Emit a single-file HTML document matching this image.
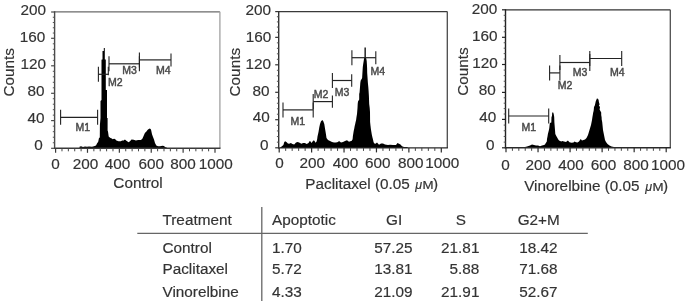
<!DOCTYPE html>
<html><head><meta charset="utf-8"><style>
html,body{margin:0;padding:0;background:#fff;}
body{width:685px;height:301px;overflow:hidden;position:relative;}
#wrap{position:absolute;left:0;top:0;width:685px;height:301px;will-change:transform;}
svg{position:absolute;left:0;top:0;}
svg text{font-family:"Liberation Sans", sans-serif;stroke:#333;stroke-width:0.18px;}
</style></head><body>
<div id="wrap"><svg width="685" height="301" viewBox="0 0 685 301">
<polygon points="79.5,148.3 79.5,146.8 81.0,146.3 83.0,147.0 85.0,146.4 87.0,146.8 89.0,146.5 92.0,146.8 94.0,146.3 96.0,145.5 97.0,143.5 98.2,141.7 99.0,138.0 99.8,137.5 99.9,125.0 100.5,118.0 100.5,101.0 101.5,100.0 101.5,60.0 101.8,59.5 102.5,59.5 102.5,51.0 103.8,51.0 103.8,48.0 104.8,48.0 104.8,59.5 105.8,59.5 105.8,90.0 107.0,90.0 107.0,118.0 107.6,118.0 107.6,130.6 108.0,131.5 108.7,136.4 109.5,137.2 110.5,138.0 111.3,138.2 112.8,139.3 114.0,138.8 115.0,139.0 116.4,140.4 118.6,141.2 120.8,141.2 122.2,140.4 123.7,140.6 124.9,139.4 126.4,140.8 128.6,142.3 130.0,141.2 131.5,139.4 133.7,139.7 135.9,140.5 138.1,140.1 141.0,140.1 142.5,138.6 144.0,135.0 145.0,132.8 146.0,131.9 147.5,130.1 148.7,129.0 149.9,128.4 151.0,129.5 152.0,134.2 153.0,137.1 154.0,139.4 155.0,142.9 156.3,145.5 158.0,146.2 160.0,146.3 162.5,145.8 164.0,146.0 165.0,147.0 167.0,147.8 167.0,148.3" fill="#000"/>
<polygon points="280.3,147.9 280.3,147.6 281.0,147.0 283.4,144.9 284.3,141.9 285.2,141.3 286.7,142.2 287.9,143.4 289.1,143.7 290.9,143.1 292.4,144.0 294.2,144.6 296.0,142.5 297.8,141.9 299.6,142.8 301.4,143.7 303.1,143.1 304.9,143.1 306.7,144.0 308.5,143.1 309.7,141.0 310.6,141.6 311.5,143.1 313.3,140.4 314.5,140.7 315.4,142.8 316.6,141.6 317.2,139.0 317.5,136.6 318.5,132.0 319.3,127.3 320.0,124.0 321.0,121.3 322.3,120.0 323.3,121.3 324.3,124.0 325.0,128.6 325.8,133.3 326.5,138.0 328.0,140.0 330.0,141.0 332.0,142.0 334.0,142.5 336.0,142.6 338.0,142.0 339.0,141.0 341.0,142.5 343.0,142.0 345.0,141.0 347.0,140.2 349.0,141.7 351.0,141.0 351.8,140.7 352.6,139.3 352.9,136.0 353.3,133.5 353.7,131.0 354.2,128.7 354.7,126.0 355.2,123.9 355.6,122.0 356.1,120.0 356.5,117.0 357.0,114.0 357.5,108.0 357.7,104.0 358.0,101.5 359.2,99.5 359.2,94.0 359.6,92.2 360.0,87.0 360.3,82.9 360.7,80.5 362.1,78.2 362.6,70.0 362.8,67.0 363.2,64.0 363.7,61.0 364.1,58.2 364.5,57.8 364.5,47.5 365.8,47.5 365.8,57.8 366.2,58.2 366.7,61.0 366.9,64.0 367.1,68.0 367.2,73.0 367.5,77.3 367.9,82.9 368.3,87.0 368.6,91.0 368.9,96.0 369.2,104.0 369.7,108.0 370.0,112.0 370.1,122.0 370.5,125.8 370.9,129.0 371.3,131.6 371.8,134.5 372.4,137.3 373.0,139.5 373.6,142.2 374.4,143.5 375.5,143.8 377.0,142.6 379.0,144.7 381.0,143.5 383.0,143.5 385.0,144.6 388.0,145.0 390.0,144.8 393.0,145.0 396.0,145.0 397.5,142.9 399.0,143.7 400.5,144.6 402.0,146.2 404.0,147.0 407.0,147.0 408.0,147.8 408.0,147.9" fill="#000"/>
<polygon points="518.0,147.8 518.0,147.5 521.0,147.0 524.0,147.3 527.0,146.5 530.0,145.5 532.0,144.5 534.0,145.0 536.0,145.5 538.0,145.5 540.0,146.2 542.0,145.5 544.0,145.0 545.0,144.5 545.5,143.5 546.8,141.6 547.0,139.0 547.6,136.0 547.9,134.0 548.8,130.4 549.3,128.0 549.6,125.0 549.9,123.0 551.3,122.6 551.5,117.0 552.0,116.0 552.2,112.4 553.2,112.4 553.7,114.0 554.2,117.0 554.4,122.6 554.6,125.0 555.0,130.0 555.3,134.0 556.3,136.0 557.0,137.3 558.0,139.0 558.6,140.0 559.5,140.8 561.3,141.6 562.3,141.1 564.0,141.6 566.0,141.9 567.9,140.4 569.5,142.2 571.5,142.8 573.5,142.5 574.5,141.6 576.0,142.2 577.5,142.5 579.0,141.6 580.7,138.9 582.0,140.4 583.5,140.1 585.0,139.5 586.5,138.0 588.0,135.0 589.5,130.0 591.0,125.0 592.0,120.0 592.4,117.3 592.8,115.0 593.2,112.5 593.6,111.0 593.8,109.4 594.0,107.0 594.8,105.4 595.4,103.0 595.7,101.4 596.4,99.8 596.9,98.6 597.5,98.6 598.6,99.8 598.8,101.4 599.2,103.0 599.6,104.5 598.9,105.6 600.0,107.0 599.6,109.4 600.4,111.0 601.2,112.5 601.2,115.0 601.6,117.3 601.7,119.5 602.2,122.0 602.5,125.0 603.0,130.0 604.0,135.0 605.0,140.0 606.0,142.0 607.5,144.0 609.5,145.5 611.5,146.5 614.0,147.0 618.0,147.5 618.0,147.8" fill="#000"/>
<line x1="54.60" y1="11.80" x2="219.90" y2="11.80" stroke="#6a6a6a" stroke-width="1.3"/>
<line x1="219.90" y1="11.80" x2="219.90" y2="148.30" stroke="#a0a0a0" stroke-width="1.3"/>
<line x1="54.60" y1="11.20" x2="54.60" y2="148.90" stroke="#4a4a4a" stroke-width="1.4"/>
<line x1="54.00" y1="148.30" x2="220.50" y2="148.30" stroke="#3a3a3a" stroke-width="1.4"/>
<line x1="51.10" y1="148.30" x2="54.60" y2="148.30" stroke="#4a4a4a" stroke-width="1.2"/>
<line x1="52.80" y1="142.76" x2="54.60" y2="142.76" stroke="#555" stroke-width="1.0"/>
<line x1="52.80" y1="137.22" x2="54.60" y2="137.22" stroke="#555" stroke-width="1.0"/>
<line x1="52.80" y1="131.68" x2="54.60" y2="131.68" stroke="#555" stroke-width="1.0"/>
<line x1="52.80" y1="126.14" x2="54.60" y2="126.14" stroke="#555" stroke-width="1.0"/>
<line x1="51.10" y1="120.60" x2="54.60" y2="120.60" stroke="#4a4a4a" stroke-width="1.2"/>
<line x1="52.80" y1="115.14" x2="54.60" y2="115.14" stroke="#555" stroke-width="1.0"/>
<line x1="52.80" y1="109.68" x2="54.60" y2="109.68" stroke="#555" stroke-width="1.0"/>
<line x1="52.80" y1="104.22" x2="54.60" y2="104.22" stroke="#555" stroke-width="1.0"/>
<line x1="52.80" y1="98.76" x2="54.60" y2="98.76" stroke="#555" stroke-width="1.0"/>
<line x1="51.10" y1="93.30" x2="54.60" y2="93.30" stroke="#4a4a4a" stroke-width="1.2"/>
<line x1="52.80" y1="87.80" x2="54.60" y2="87.80" stroke="#555" stroke-width="1.0"/>
<line x1="52.80" y1="82.30" x2="54.60" y2="82.30" stroke="#555" stroke-width="1.0"/>
<line x1="52.80" y1="76.80" x2="54.60" y2="76.80" stroke="#555" stroke-width="1.0"/>
<line x1="52.80" y1="71.30" x2="54.60" y2="71.30" stroke="#555" stroke-width="1.0"/>
<line x1="51.10" y1="65.80" x2="54.60" y2="65.80" stroke="#4a4a4a" stroke-width="1.2"/>
<line x1="52.80" y1="60.30" x2="54.60" y2="60.30" stroke="#555" stroke-width="1.0"/>
<line x1="52.80" y1="54.80" x2="54.60" y2="54.80" stroke="#555" stroke-width="1.0"/>
<line x1="52.80" y1="49.30" x2="54.60" y2="49.30" stroke="#555" stroke-width="1.0"/>
<line x1="52.80" y1="43.80" x2="54.60" y2="43.80" stroke="#555" stroke-width="1.0"/>
<line x1="51.10" y1="38.30" x2="54.60" y2="38.30" stroke="#4a4a4a" stroke-width="1.2"/>
<line x1="52.80" y1="33.04" x2="54.60" y2="33.04" stroke="#555" stroke-width="1.0"/>
<line x1="52.80" y1="27.78" x2="54.60" y2="27.78" stroke="#555" stroke-width="1.0"/>
<line x1="52.80" y1="22.52" x2="54.60" y2="22.52" stroke="#555" stroke-width="1.0"/>
<line x1="52.80" y1="17.26" x2="54.60" y2="17.26" stroke="#555" stroke-width="1.0"/>
<line x1="51.10" y1="12.00" x2="54.60" y2="12.00" stroke="#4a4a4a" stroke-width="1.2"/>
<text x="42.80" y="150.17" font-size="15.3" text-anchor="end" fill="#333" >0</text>
<text x="44.40" y="122.97" font-size="15.3" text-anchor="end" fill="#333" >40</text>
<text x="44.50" y="96.07" font-size="15.3" text-anchor="end" fill="#333" >80</text>
<text x="46.10" y="68.97" font-size="15.3" text-anchor="end" fill="#333" >120</text>
<text x="45.40" y="41.92" font-size="15.3" text-anchor="end" fill="#333" >160</text>
<text x="46.10" y="15.07" font-size="15.3" text-anchor="end" fill="#333" >200</text>
<line x1="55.60" y1="148.30" x2="55.60" y2="152.80" stroke="#3a3a3a" stroke-width="1.2"/>
<line x1="61.98" y1="148.30" x2="61.98" y2="151.30" stroke="#444" stroke-width="1.0"/>
<line x1="68.35" y1="148.30" x2="68.35" y2="151.30" stroke="#444" stroke-width="1.0"/>
<line x1="74.73" y1="148.30" x2="74.73" y2="151.30" stroke="#444" stroke-width="1.0"/>
<line x1="81.10" y1="148.30" x2="81.10" y2="151.30" stroke="#444" stroke-width="1.0"/>
<line x1="87.48" y1="148.30" x2="87.48" y2="152.80" stroke="#3a3a3a" stroke-width="1.2"/>
<line x1="93.86" y1="148.30" x2="93.86" y2="151.30" stroke="#444" stroke-width="1.0"/>
<line x1="100.23" y1="148.30" x2="100.23" y2="151.30" stroke="#444" stroke-width="1.0"/>
<line x1="106.61" y1="148.30" x2="106.61" y2="151.30" stroke="#444" stroke-width="1.0"/>
<line x1="112.98" y1="148.30" x2="112.98" y2="151.30" stroke="#444" stroke-width="1.0"/>
<line x1="119.36" y1="148.30" x2="119.36" y2="152.80" stroke="#3a3a3a" stroke-width="1.2"/>
<line x1="125.74" y1="148.30" x2="125.74" y2="151.30" stroke="#444" stroke-width="1.0"/>
<line x1="132.11" y1="148.30" x2="132.11" y2="151.30" stroke="#444" stroke-width="1.0"/>
<line x1="138.49" y1="148.30" x2="138.49" y2="151.30" stroke="#444" stroke-width="1.0"/>
<line x1="144.86" y1="148.30" x2="144.86" y2="151.30" stroke="#444" stroke-width="1.0"/>
<line x1="151.24" y1="148.30" x2="151.24" y2="152.80" stroke="#3a3a3a" stroke-width="1.2"/>
<line x1="157.62" y1="148.30" x2="157.62" y2="151.30" stroke="#444" stroke-width="1.0"/>
<line x1="163.99" y1="148.30" x2="163.99" y2="151.30" stroke="#444" stroke-width="1.0"/>
<line x1="170.37" y1="148.30" x2="170.37" y2="151.30" stroke="#444" stroke-width="1.0"/>
<line x1="176.74" y1="148.30" x2="176.74" y2="151.30" stroke="#444" stroke-width="1.0"/>
<line x1="183.12" y1="148.30" x2="183.12" y2="152.80" stroke="#3a3a3a" stroke-width="1.2"/>
<line x1="189.50" y1="148.30" x2="189.50" y2="151.30" stroke="#444" stroke-width="1.0"/>
<line x1="195.87" y1="148.30" x2="195.87" y2="151.30" stroke="#444" stroke-width="1.0"/>
<line x1="202.25" y1="148.30" x2="202.25" y2="151.30" stroke="#444" stroke-width="1.0"/>
<line x1="208.62" y1="148.30" x2="208.62" y2="151.30" stroke="#444" stroke-width="1.0"/>
<line x1="215.00" y1="148.30" x2="215.00" y2="152.80" stroke="#3a3a3a" stroke-width="1.2"/>
<text x="55.50" y="169.37" font-size="15.3" text-anchor="middle" fill="#333" >0</text>
<text x="85.50" y="169.37" font-size="15.3" text-anchor="middle" fill="#333" >200</text>
<text x="117.40" y="169.37" font-size="15.3" text-anchor="middle" fill="#333" >400</text>
<text x="151.30" y="169.37" font-size="15.3" text-anchor="middle" fill="#333" >600</text>
<text x="182.90" y="169.37" font-size="15.3" text-anchor="middle" fill="#333" >800</text>
<text x="215.70" y="169.37" font-size="15.3" text-anchor="middle" fill="#333" >1000</text>
<text x="0" y="0" font-size="15.3" text-anchor="middle" fill="#333" transform="translate(14.30,72.30) rotate(-90)">Counts</text>
<line x1="278.70" y1="11.60" x2="447.30" y2="11.60" stroke="#3a3a3a" stroke-width="1.3"/>
<line x1="447.30" y1="11.60" x2="447.30" y2="147.90" stroke="#4a4a4a" stroke-width="1.3"/>
<line x1="278.70" y1="11.00" x2="278.70" y2="148.50" stroke="#333" stroke-width="1.4"/>
<line x1="278.10" y1="147.90" x2="447.90" y2="147.90" stroke="#2a2a2a" stroke-width="1.4"/>
<line x1="275.20" y1="147.80" x2="278.70" y2="147.80" stroke="#333" stroke-width="1.2"/>
<line x1="276.90" y1="142.18" x2="278.70" y2="142.18" stroke="#555" stroke-width="1.0"/>
<line x1="276.90" y1="136.56" x2="278.70" y2="136.56" stroke="#555" stroke-width="1.0"/>
<line x1="276.90" y1="130.94" x2="278.70" y2="130.94" stroke="#555" stroke-width="1.0"/>
<line x1="276.90" y1="125.32" x2="278.70" y2="125.32" stroke="#555" stroke-width="1.0"/>
<line x1="275.20" y1="119.70" x2="278.70" y2="119.70" stroke="#333" stroke-width="1.2"/>
<line x1="276.90" y1="114.22" x2="278.70" y2="114.22" stroke="#555" stroke-width="1.0"/>
<line x1="276.90" y1="108.74" x2="278.70" y2="108.74" stroke="#555" stroke-width="1.0"/>
<line x1="276.90" y1="103.26" x2="278.70" y2="103.26" stroke="#555" stroke-width="1.0"/>
<line x1="276.90" y1="97.78" x2="278.70" y2="97.78" stroke="#555" stroke-width="1.0"/>
<line x1="275.20" y1="92.30" x2="278.70" y2="92.30" stroke="#333" stroke-width="1.2"/>
<line x1="276.90" y1="86.80" x2="278.70" y2="86.80" stroke="#555" stroke-width="1.0"/>
<line x1="276.90" y1="81.30" x2="278.70" y2="81.30" stroke="#555" stroke-width="1.0"/>
<line x1="276.90" y1="75.80" x2="278.70" y2="75.80" stroke="#555" stroke-width="1.0"/>
<line x1="276.90" y1="70.30" x2="278.70" y2="70.30" stroke="#555" stroke-width="1.0"/>
<line x1="275.20" y1="64.80" x2="278.70" y2="64.80" stroke="#333" stroke-width="1.2"/>
<line x1="276.90" y1="59.31" x2="278.70" y2="59.31" stroke="#555" stroke-width="1.0"/>
<line x1="276.90" y1="53.82" x2="278.70" y2="53.82" stroke="#555" stroke-width="1.0"/>
<line x1="276.90" y1="48.33" x2="278.70" y2="48.33" stroke="#555" stroke-width="1.0"/>
<line x1="276.90" y1="42.84" x2="278.70" y2="42.84" stroke="#555" stroke-width="1.0"/>
<line x1="275.20" y1="37.35" x2="278.70" y2="37.35" stroke="#333" stroke-width="1.2"/>
<line x1="276.90" y1="32.20" x2="278.70" y2="32.20" stroke="#555" stroke-width="1.0"/>
<line x1="276.90" y1="27.05" x2="278.70" y2="27.05" stroke="#555" stroke-width="1.0"/>
<line x1="276.90" y1="21.90" x2="278.70" y2="21.90" stroke="#555" stroke-width="1.0"/>
<line x1="276.90" y1="16.75" x2="278.70" y2="16.75" stroke="#555" stroke-width="1.0"/>
<line x1="275.20" y1="11.60" x2="278.70" y2="11.60" stroke="#333" stroke-width="1.2"/>
<text x="268.50" y="150.27" font-size="15.3" text-anchor="end" fill="#333" >0</text>
<text x="269.80" y="122.47" font-size="15.3" text-anchor="end" fill="#333" >40</text>
<text x="269.50" y="95.97" font-size="15.3" text-anchor="end" fill="#333" >80</text>
<text x="271.10" y="69.27" font-size="15.3" text-anchor="end" fill="#333" >120</text>
<text x="271.40" y="41.97" font-size="15.3" text-anchor="end" fill="#333" >160</text>
<text x="271.10" y="14.92" font-size="15.3" text-anchor="end" fill="#333" >200</text>
<line x1="279.20" y1="147.90" x2="279.20" y2="152.40" stroke="#2a2a2a" stroke-width="1.2"/>
<line x1="285.68" y1="147.90" x2="285.68" y2="150.90" stroke="#444" stroke-width="1.0"/>
<line x1="292.17" y1="147.90" x2="292.17" y2="150.90" stroke="#444" stroke-width="1.0"/>
<line x1="298.65" y1="147.90" x2="298.65" y2="150.90" stroke="#444" stroke-width="1.0"/>
<line x1="305.14" y1="147.90" x2="305.14" y2="150.90" stroke="#444" stroke-width="1.0"/>
<line x1="311.62" y1="147.90" x2="311.62" y2="152.40" stroke="#2a2a2a" stroke-width="1.2"/>
<line x1="318.10" y1="147.90" x2="318.10" y2="150.90" stroke="#444" stroke-width="1.0"/>
<line x1="324.59" y1="147.90" x2="324.59" y2="150.90" stroke="#444" stroke-width="1.0"/>
<line x1="331.07" y1="147.90" x2="331.07" y2="150.90" stroke="#444" stroke-width="1.0"/>
<line x1="337.56" y1="147.90" x2="337.56" y2="150.90" stroke="#444" stroke-width="1.0"/>
<line x1="344.04" y1="147.90" x2="344.04" y2="152.40" stroke="#2a2a2a" stroke-width="1.2"/>
<line x1="350.52" y1="147.90" x2="350.52" y2="150.90" stroke="#444" stroke-width="1.0"/>
<line x1="357.01" y1="147.90" x2="357.01" y2="150.90" stroke="#444" stroke-width="1.0"/>
<line x1="363.49" y1="147.90" x2="363.49" y2="150.90" stroke="#444" stroke-width="1.0"/>
<line x1="369.98" y1="147.90" x2="369.98" y2="150.90" stroke="#444" stroke-width="1.0"/>
<line x1="376.46" y1="147.90" x2="376.46" y2="152.40" stroke="#2a2a2a" stroke-width="1.2"/>
<line x1="382.94" y1="147.90" x2="382.94" y2="150.90" stroke="#444" stroke-width="1.0"/>
<line x1="389.43" y1="147.90" x2="389.43" y2="150.90" stroke="#444" stroke-width="1.0"/>
<line x1="395.91" y1="147.90" x2="395.91" y2="150.90" stroke="#444" stroke-width="1.0"/>
<line x1="402.40" y1="147.90" x2="402.40" y2="150.90" stroke="#444" stroke-width="1.0"/>
<line x1="408.88" y1="147.90" x2="408.88" y2="152.40" stroke="#2a2a2a" stroke-width="1.2"/>
<line x1="415.36" y1="147.90" x2="415.36" y2="150.90" stroke="#444" stroke-width="1.0"/>
<line x1="421.85" y1="147.90" x2="421.85" y2="150.90" stroke="#444" stroke-width="1.0"/>
<line x1="428.33" y1="147.90" x2="428.33" y2="150.90" stroke="#444" stroke-width="1.0"/>
<line x1="434.82" y1="147.90" x2="434.82" y2="150.90" stroke="#444" stroke-width="1.0"/>
<line x1="441.30" y1="147.90" x2="441.30" y2="152.40" stroke="#2a2a2a" stroke-width="1.2"/>
<text x="279.60" y="168.17" font-size="15.3" text-anchor="middle" fill="#333" >0</text>
<text x="312.30" y="168.17" font-size="15.3" text-anchor="middle" fill="#333" >200</text>
<text x="345.40" y="168.17" font-size="15.3" text-anchor="middle" fill="#333" >400</text>
<text x="377.70" y="168.17" font-size="15.3" text-anchor="middle" fill="#333" >600</text>
<text x="410.70" y="168.17" font-size="15.3" text-anchor="middle" fill="#333" >800</text>
<text x="442.30" y="168.17" font-size="15.3" text-anchor="middle" fill="#333" >1000</text>
<text x="0" y="0" font-size="15.3" text-anchor="middle" fill="#333" transform="translate(240.40,72.20) rotate(-90)">Counts</text>
<line x1="505.50" y1="9.80" x2="670.30" y2="9.80" stroke="#333" stroke-width="1.3"/>
<line x1="670.30" y1="9.80" x2="670.30" y2="147.80" stroke="#505050" stroke-width="1.3"/>
<line x1="505.50" y1="9.20" x2="505.50" y2="148.40" stroke="#222" stroke-width="1.4"/>
<line x1="504.90" y1="147.80" x2="670.90" y2="147.80" stroke="#2a2a2a" stroke-width="1.4"/>
<line x1="502.00" y1="147.80" x2="505.50" y2="147.80" stroke="#222" stroke-width="1.2"/>
<line x1="503.70" y1="142.12" x2="505.50" y2="142.12" stroke="#555" stroke-width="1.0"/>
<line x1="503.70" y1="136.44" x2="505.50" y2="136.44" stroke="#555" stroke-width="1.0"/>
<line x1="503.70" y1="130.76" x2="505.50" y2="130.76" stroke="#555" stroke-width="1.0"/>
<line x1="503.70" y1="125.08" x2="505.50" y2="125.08" stroke="#555" stroke-width="1.0"/>
<line x1="502.00" y1="119.40" x2="505.50" y2="119.40" stroke="#222" stroke-width="1.2"/>
<line x1="503.70" y1="114.00" x2="505.50" y2="114.00" stroke="#555" stroke-width="1.0"/>
<line x1="503.70" y1="108.60" x2="505.50" y2="108.60" stroke="#555" stroke-width="1.0"/>
<line x1="503.70" y1="103.20" x2="505.50" y2="103.20" stroke="#555" stroke-width="1.0"/>
<line x1="503.70" y1="97.80" x2="505.50" y2="97.80" stroke="#555" stroke-width="1.0"/>
<line x1="502.00" y1="92.40" x2="505.50" y2="92.40" stroke="#222" stroke-width="1.2"/>
<line x1="503.70" y1="86.82" x2="505.50" y2="86.82" stroke="#555" stroke-width="1.0"/>
<line x1="503.70" y1="81.24" x2="505.50" y2="81.24" stroke="#555" stroke-width="1.0"/>
<line x1="503.70" y1="75.66" x2="505.50" y2="75.66" stroke="#555" stroke-width="1.0"/>
<line x1="503.70" y1="70.08" x2="505.50" y2="70.08" stroke="#555" stroke-width="1.0"/>
<line x1="502.00" y1="64.50" x2="505.50" y2="64.50" stroke="#222" stroke-width="1.2"/>
<line x1="503.70" y1="59.06" x2="505.50" y2="59.06" stroke="#555" stroke-width="1.0"/>
<line x1="503.70" y1="53.62" x2="505.50" y2="53.62" stroke="#555" stroke-width="1.0"/>
<line x1="503.70" y1="48.18" x2="505.50" y2="48.18" stroke="#555" stroke-width="1.0"/>
<line x1="503.70" y1="42.74" x2="505.50" y2="42.74" stroke="#555" stroke-width="1.0"/>
<line x1="502.00" y1="37.30" x2="505.50" y2="37.30" stroke="#222" stroke-width="1.2"/>
<line x1="503.70" y1="31.80" x2="505.50" y2="31.80" stroke="#555" stroke-width="1.0"/>
<line x1="503.70" y1="26.30" x2="505.50" y2="26.30" stroke="#555" stroke-width="1.0"/>
<line x1="503.70" y1="20.80" x2="505.50" y2="20.80" stroke="#555" stroke-width="1.0"/>
<line x1="503.70" y1="15.30" x2="505.50" y2="15.30" stroke="#555" stroke-width="1.0"/>
<line x1="502.00" y1="9.80" x2="505.50" y2="9.80" stroke="#222" stroke-width="1.2"/>
<text x="494.50" y="149.57" font-size="15.3" text-anchor="end" fill="#333" >0</text>
<text x="496.20" y="121.97" font-size="15.3" text-anchor="end" fill="#333" >40</text>
<text x="495.80" y="95.27" font-size="15.3" text-anchor="end" fill="#333" >80</text>
<text x="497.80" y="67.97" font-size="15.3" text-anchor="end" fill="#333" >120</text>
<text x="497.60" y="40.77" font-size="15.3" text-anchor="end" fill="#333" >160</text>
<text x="497.40" y="13.92" font-size="15.3" text-anchor="end" fill="#333" >200</text>
<line x1="506.00" y1="147.80" x2="506.00" y2="152.30" stroke="#2a2a2a" stroke-width="1.2"/>
<line x1="512.41" y1="147.80" x2="512.41" y2="150.80" stroke="#444" stroke-width="1.0"/>
<line x1="518.82" y1="147.80" x2="518.82" y2="150.80" stroke="#444" stroke-width="1.0"/>
<line x1="525.22" y1="147.80" x2="525.22" y2="150.80" stroke="#444" stroke-width="1.0"/>
<line x1="531.63" y1="147.80" x2="531.63" y2="150.80" stroke="#444" stroke-width="1.0"/>
<line x1="538.04" y1="147.80" x2="538.04" y2="152.30" stroke="#2a2a2a" stroke-width="1.2"/>
<line x1="544.45" y1="147.80" x2="544.45" y2="150.80" stroke="#444" stroke-width="1.0"/>
<line x1="550.86" y1="147.80" x2="550.86" y2="150.80" stroke="#444" stroke-width="1.0"/>
<line x1="557.26" y1="147.80" x2="557.26" y2="150.80" stroke="#444" stroke-width="1.0"/>
<line x1="563.67" y1="147.80" x2="563.67" y2="150.80" stroke="#444" stroke-width="1.0"/>
<line x1="570.08" y1="147.80" x2="570.08" y2="152.30" stroke="#2a2a2a" stroke-width="1.2"/>
<line x1="576.49" y1="147.80" x2="576.49" y2="150.80" stroke="#444" stroke-width="1.0"/>
<line x1="582.90" y1="147.80" x2="582.90" y2="150.80" stroke="#444" stroke-width="1.0"/>
<line x1="589.30" y1="147.80" x2="589.30" y2="150.80" stroke="#444" stroke-width="1.0"/>
<line x1="595.71" y1="147.80" x2="595.71" y2="150.80" stroke="#444" stroke-width="1.0"/>
<line x1="602.12" y1="147.80" x2="602.12" y2="152.30" stroke="#2a2a2a" stroke-width="1.2"/>
<line x1="608.53" y1="147.80" x2="608.53" y2="150.80" stroke="#444" stroke-width="1.0"/>
<line x1="614.94" y1="147.80" x2="614.94" y2="150.80" stroke="#444" stroke-width="1.0"/>
<line x1="621.34" y1="147.80" x2="621.34" y2="150.80" stroke="#444" stroke-width="1.0"/>
<line x1="627.75" y1="147.80" x2="627.75" y2="150.80" stroke="#444" stroke-width="1.0"/>
<line x1="634.16" y1="147.80" x2="634.16" y2="152.30" stroke="#2a2a2a" stroke-width="1.2"/>
<line x1="640.57" y1="147.80" x2="640.57" y2="150.80" stroke="#444" stroke-width="1.0"/>
<line x1="646.98" y1="147.80" x2="646.98" y2="150.80" stroke="#444" stroke-width="1.0"/>
<line x1="653.38" y1="147.80" x2="653.38" y2="150.80" stroke="#444" stroke-width="1.0"/>
<line x1="659.79" y1="147.80" x2="659.79" y2="150.80" stroke="#444" stroke-width="1.0"/>
<line x1="666.20" y1="147.80" x2="666.20" y2="152.30" stroke="#2a2a2a" stroke-width="1.2"/>
<text x="505.50" y="169.97" font-size="15.3" text-anchor="middle" fill="#333" >0</text>
<text x="538.20" y="169.97" font-size="15.3" text-anchor="middle" fill="#333" >200</text>
<text x="571.00" y="169.97" font-size="15.3" text-anchor="middle" fill="#333" >400</text>
<text x="603.40" y="169.97" font-size="15.3" text-anchor="middle" fill="#333" >600</text>
<text x="636.10" y="169.97" font-size="15.3" text-anchor="middle" fill="#333" >800</text>
<text x="667.90" y="169.97" font-size="15.3" text-anchor="middle" fill="#333" >1000</text>
<text x="0" y="0" font-size="15.3" text-anchor="middle" fill="#333" transform="translate(467.50,71.50) rotate(-90)">Counts</text>
<line x1="60.60" y1="117.30" x2="97.60" y2="117.30" stroke="#222" stroke-width="1.2"/>
<line x1="60.60" y1="109.80" x2="60.60" y2="124.80" stroke="#222" stroke-width="1.1"/>
<line x1="97.60" y1="109.80" x2="97.60" y2="124.80" stroke="#222" stroke-width="1.1"/>
<line x1="98.40" y1="74.30" x2="108.30" y2="74.30" stroke="#222" stroke-width="1.2"/>
<line x1="98.40" y1="66.80" x2="98.40" y2="81.80" stroke="#222" stroke-width="1.1"/>
<line x1="108.30" y1="66.80" x2="108.30" y2="75.30" stroke="#222" stroke-width="1.1"/>
<line x1="109.00" y1="63.80" x2="139.40" y2="63.80" stroke="#222" stroke-width="1.2"/>
<line x1="109.00" y1="56.30" x2="109.00" y2="71.30" stroke="#222" stroke-width="1.1"/>
<line x1="139.40" y1="56.30" x2="139.40" y2="71.30" stroke="#222" stroke-width="1.1"/>
<line x1="139.40" y1="59.90" x2="171.00" y2="59.90" stroke="#222" stroke-width="1.2"/>
<line x1="139.40" y1="52.40" x2="139.40" y2="67.40" stroke="#222" stroke-width="1.1"/>
<line x1="171.00" y1="53.40" x2="171.00" y2="66.40" stroke="#222" stroke-width="1.1"/>
<text x="75.50" y="131.00" font-size="10.5" text-anchor="start" fill="#4a4a4a" style="stroke:#4a4a4a;stroke-width:0.45px">M1</text>
<text x="108.00" y="85.60" font-size="10.5" text-anchor="start" fill="#4a4a4a" style="stroke:#4a4a4a;stroke-width:0.45px">M2</text>
<text x="122.30" y="74.20" font-size="10.5" text-anchor="start" fill="#4a4a4a" style="stroke:#4a4a4a;stroke-width:0.45px">M3</text>
<text x="156.00" y="74.20" font-size="10.5" text-anchor="start" fill="#4a4a4a" style="stroke:#4a4a4a;stroke-width:0.45px">M4</text>
<line x1="283.00" y1="109.90" x2="313.20" y2="109.90" stroke="#222" stroke-width="1.2"/>
<line x1="283.00" y1="102.40" x2="283.00" y2="117.40" stroke="#222" stroke-width="1.1"/>
<line x1="313.20" y1="102.40" x2="313.20" y2="117.40" stroke="#222" stroke-width="1.1"/>
<line x1="313.20" y1="101.60" x2="332.40" y2="101.60" stroke="#222" stroke-width="1.2"/>
<line x1="313.20" y1="94.10" x2="313.20" y2="109.10" stroke="#222" stroke-width="1.1"/>
<line x1="332.40" y1="95.40" x2="332.40" y2="107.80" stroke="#222" stroke-width="1.1"/>
<line x1="332.40" y1="80.50" x2="351.70" y2="80.50" stroke="#222" stroke-width="1.2"/>
<line x1="332.40" y1="73.00" x2="332.40" y2="88.00" stroke="#222" stroke-width="1.1"/>
<line x1="351.70" y1="74.30" x2="351.70" y2="86.70" stroke="#222" stroke-width="1.1"/>
<line x1="351.90" y1="57.70" x2="375.80" y2="57.70" stroke="#222" stroke-width="1.2"/>
<line x1="351.90" y1="50.20" x2="351.90" y2="65.20" stroke="#222" stroke-width="1.1"/>
<line x1="375.80" y1="51.20" x2="375.80" y2="64.20" stroke="#222" stroke-width="1.1"/>
<text x="290.60" y="125.00" font-size="10.5" text-anchor="start" fill="#4a4a4a" style="stroke:#4a4a4a;stroke-width:0.45px">M1</text>
<text x="313.80" y="98.20" font-size="10.5" text-anchor="start" fill="#4a4a4a" style="stroke:#4a4a4a;stroke-width:0.45px">M2</text>
<text x="334.80" y="96.40" font-size="10.5" text-anchor="start" fill="#4a4a4a" style="stroke:#4a4a4a;stroke-width:0.45px">M3</text>
<text x="370.50" y="74.80" font-size="10.5" text-anchor="start" fill="#4a4a4a" style="stroke:#4a4a4a;stroke-width:0.45px">M4</text>
<line x1="508.70" y1="116.00" x2="548.70" y2="116.00" stroke="#222" stroke-width="1.2"/>
<line x1="508.70" y1="108.50" x2="508.70" y2="123.50" stroke="#222" stroke-width="1.1"/>
<line x1="548.70" y1="108.50" x2="548.70" y2="123.50" stroke="#222" stroke-width="1.1"/>
<line x1="549.60" y1="72.90" x2="559.90" y2="72.90" stroke="#222" stroke-width="1.2"/>
<line x1="549.60" y1="65.40" x2="549.60" y2="80.40" stroke="#222" stroke-width="1.1"/>
<line x1="559.90" y1="65.40" x2="559.90" y2="80.40" stroke="#222" stroke-width="1.1"/>
<line x1="559.90" y1="62.50" x2="589.80" y2="62.50" stroke="#222" stroke-width="1.2"/>
<line x1="559.90" y1="55.00" x2="559.90" y2="70.00" stroke="#222" stroke-width="1.1"/>
<line x1="589.80" y1="54.00" x2="589.80" y2="71.00" stroke="#222" stroke-width="1.1"/>
<line x1="589.80" y1="58.50" x2="621.70" y2="58.50" stroke="#222" stroke-width="1.2"/>
<line x1="589.80" y1="51.00" x2="589.80" y2="66.00" stroke="#222" stroke-width="1.1"/>
<line x1="621.70" y1="51.00" x2="621.70" y2="66.00" stroke="#222" stroke-width="1.1"/>
<text x="521.40" y="131.00" font-size="10.5" text-anchor="start" fill="#4a4a4a" style="stroke:#4a4a4a;stroke-width:0.45px">M1</text>
<text x="557.80" y="88.70" font-size="10.5" text-anchor="start" fill="#4a4a4a" style="stroke:#4a4a4a;stroke-width:0.45px">M2</text>
<text x="572.70" y="75.80" font-size="10.5" text-anchor="start" fill="#4a4a4a" style="stroke:#4a4a4a;stroke-width:0.45px">M3</text>
<text x="609.90" y="75.80" font-size="10.5" text-anchor="start" fill="#4a4a4a" style="stroke:#4a4a4a;stroke-width:0.45px">M4</text>
<text x="138.00" y="187.50" font-size="15.3" text-anchor="middle" fill="#333" >Control</text>
<text x="305.30" y="188.60" font-size="15.3" text-anchor="start" fill="#333" >Paclitaxel (0.05</text>
<text x="415.30" y="188.60" font-size="12.5" font-style="italic" fill="#333">μ</text>
<text x="0" y="0" font-size="10.2" fill="#333" transform="translate(422.50,188.60) scale(1.3,1)">M</text>
<text x="433.00" y="188.60" font-size="15.3" text-anchor="start" fill="#333" >)</text>
<text x="524.20" y="190.70" font-size="15.3" text-anchor="start" fill="#333" >Vinorelbine (0.05</text>
<text x="645.30" y="190.70" font-size="12.5" font-style="italic" fill="#333">μ</text>
<text x="0" y="0" font-size="10.2" fill="#333" transform="translate(652.50,190.70) scale(1.3,1)">M</text>
<text x="663.00" y="190.70" font-size="15.3" text-anchor="start" fill="#333" >)</text>
<line x1="137.30" y1="233.30" x2="587.80" y2="233.30" stroke="#666" stroke-width="1.3"/>
<line x1="261.80" y1="207.00" x2="261.80" y2="301.00" stroke="#666" stroke-width="1.3"/>
<text x="162.50" y="225.00" font-size="15.3" text-anchor="start" fill="#333" >Treatment</text>
<text x="272.00" y="225.00" font-size="15.3" text-anchor="start" fill="#333" >Apoptotic</text>
<text x="394.20" y="225.00" font-size="15.3" text-anchor="middle" fill="#333" >GI</text>
<text x="460.80" y="225.00" font-size="15.3" text-anchor="middle" fill="#333" >S</text>
<text x="538.70" y="225.00" font-size="15.3" text-anchor="middle" fill="#333" >G2+M</text>
<text x="162.50" y="252.50" font-size="15.3" text-anchor="start" fill="#333" >Control</text>
<text x="272.00" y="252.50" font-size="15.3" text-anchor="start" fill="#333" >1.70</text>
<text x="412.60" y="252.50" font-size="15.3" text-anchor="end" fill="#333" >57.25</text>
<text x="479.40" y="252.50" font-size="15.3" text-anchor="end" fill="#333" >21.81</text>
<text x="557.60" y="252.50" font-size="15.3" text-anchor="end" fill="#333" >18.42</text>
<text x="162.50" y="274.30" font-size="15.3" text-anchor="start" fill="#333" >Paclitaxel</text>
<text x="272.00" y="274.30" font-size="15.3" text-anchor="start" fill="#333" >5.72</text>
<text x="412.60" y="274.30" font-size="15.3" text-anchor="end" fill="#333" >13.81</text>
<text x="479.40" y="274.30" font-size="15.3" text-anchor="end" fill="#333" >5.88</text>
<text x="557.60" y="274.30" font-size="15.3" text-anchor="end" fill="#333" >71.68</text>
<text x="162.50" y="296.50" font-size="15.3" text-anchor="start" fill="#333" >Vinorelbine</text>
<text x="272.00" y="296.50" font-size="15.3" text-anchor="start" fill="#333" >4.33</text>
<text x="412.60" y="296.50" font-size="15.3" text-anchor="end" fill="#333" >21.09</text>
<text x="479.40" y="296.50" font-size="15.3" text-anchor="end" fill="#333" >21.91</text>
<text x="557.60" y="296.50" font-size="15.3" text-anchor="end" fill="#333" >52.67</text>
</svg></div>
</body></html>
